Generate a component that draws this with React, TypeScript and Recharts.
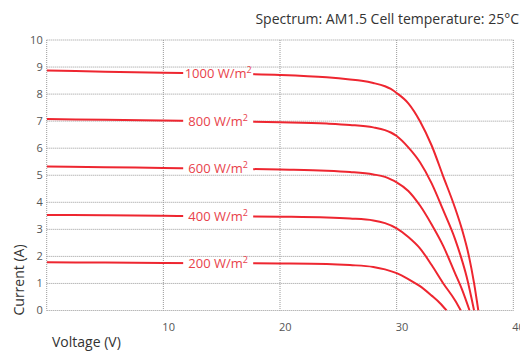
import { LineChart, Line, XAxis, YAxis, CartesianGrid } from "recharts";

const FONT = "'Open Sans', 'Segoe UI', sans-serif";
const LINE_RED = "#ee2630";
const TEXT_RED = "#e8424a";

// voltage where the irradiance tag sits on each curve
const LABEL_V = 14.7;

const xTicks = [0, 10, 20, 30, 40];
const yTicks = [0, 1, 2, 3, 4, 5, 6, 7, 8, 9, 10];

// I-V curves (V, A)
const v1000 = [0, 5, 10, 14.7, 20, 24, 26, 27, 28, 29, 29.5, 30, 31, 32, 33, 34, 35, 35.6, 36.2, 36.64, 37];
const i1000 = [8.87, 8.83, 8.79, 8.76, 8.71, 8.62, 8.54, 8.49, 8.41, 8.29, 8.19, 8.04, 7.66, 7.0, 6.1, 4.95, 3.8, 3.0, 2.0, 1.0, 0];

const v800 = [0, 5, 10, 14.7, 20, 24, 26, 28, 29, 29.5, 30, 31, 32, 33, 34, 35, 35.5, 36, 36.64];
const i800 = [7.08, 7.05, 7.02, 7.0, 6.96, 6.91, 6.86, 6.77, 6.67, 6.58, 6.45, 6.03, 5.48, 4.7, 3.7, 2.65, 2.0, 1.25, 0];

const v600 = [0, 5, 10, 14.7, 20, 24, 26, 28, 29, 29.5, 30, 31, 32, 33, 34, 35, 35.6, 36.25];
const i600 = [5.32, 5.3, 5.27, 5.25, 5.21, 5.17, 5.12, 5.03, 4.94, 4.85, 4.74, 4.42, 3.88, 3.18, 2.38, 1.38, 0.78, 0];

const v400 = [0, 5, 10, 14.7, 20, 24, 26, 28, 29, 30, 31, 32, 33, 34, 35, 35.5];
const i400 = [3.53, 3.52, 3.5, 3.49, 3.47, 3.44, 3.4, 3.33, 3.23, 3.04, 2.72, 2.3, 1.68, 1.0, 0.38, 0];

const v200 = [0, 5, 10, 14.7, 20, 24, 26, 28, 29, 30, 31, 32, 33, 33.7, 34.28];
const i200 = [1.78, 1.77, 1.76, 1.75, 1.74, 1.72, 1.68, 1.61, 1.52, 1.38, 1.16, 0.9, 0.55, 0.28, 0];

const irradiance = ["1000", "800", "600", "400", "200"];
const voltages = [v1000, v800, v600, v400, v200];
const currents = [i1000, i800, i600, i400, i200];

const series = irradiance.map((name, k) => ({
  name,
  data: voltages[k].map((v, j) => ({ v, i: currents[k][j] })),
}));

const XTick = (props: any) => {
  const { x, y, payload } = props;
  if (payload.value === 0) return <g />;
  return (
    <text x={x - 1} y={y} dy="0.71em" fill="#555" fontSize={11} fontFamily={FONT}>
      {payload.value}
    </text>
  );
};

// irradiance tag drawn over the curve with a white box behind it
const makeTag = (name: string) => (p: any) => {
  if (!p.payload || p.payload.v !== LABEL_V) return <g key={`d-${name}-${p.index}`} />;
  return (
    <g key={`tag-${name}`}>
      <rect x={p.cx - 35} y={p.cy - 5.5} width={70} height={11} fill="#fff" />
      <text
        x={p.cx}
        y={p.cy}
        dy="0.36em"
        textAnchor="middle"
        fill={TEXT_RED}
        fontSize={13}
        fontFamily={FONT}
      >
        {name} W/m
        <tspan dy={-5} fontSize={9}>
          2
        </tspan>
      </text>
    </g>
  );
};

export default function App() {
  return (
    <div style={{ position: "absolute", left: 0, top: 0, width: 520, height: 351, background: "#fff" }}>
      <div
        style={{
          position: "absolute",
          top: 9,
          right: 1,
          fontFamily: FONT,
          fontSize: 14,
          lineHeight: "19px",
          color: "#333",
          whiteSpace: "nowrap",
        }}
      >
        Spectrum: AM1.5 Cell temperature: 25°C
      </div>
      <LineChart width={520} height={351} margin={{ top: 40, right: 6.7, bottom: 0, left: 0 }}>
        <CartesianGrid stroke="#999" strokeDasharray="1 1" />
        <XAxis
          type="number"
          dataKey="v"
          domain={[0, 40]}
          ticks={xTicks}
          interval={0}
          height={40.5}
          axisLine={false}
          tickLine={false}
          tickSize={10}
          tickMargin={2.5}
          tick={XTick}
          allowDataOverflow
          label={{
            content: () => (
              <text x={52} y={346.5} fill="#333" fontSize={14} fontFamily={FONT}>
                Voltage (V)
              </text>
            ),
          }}
        />
        <YAxis
          type="number"
          domain={[0, 10]}
          ticks={yTicks}
          interval={0}
          width={46.7}
          axisLine={false}
          tickLine={false}
          tickSize={2}
          tickMargin={2}
          tick={{ fill: "#555", fontSize: 11, fontFamily: FONT }}
          allowDataOverflow
          label={{
            content: () => (
              <text
                transform="translate(24,280) rotate(-90)"
                textAnchor="middle"
                fill="#333"
                fontSize={14}
                fontFamily={FONT}
              >
                Current (A)
              </text>
            ),
          }}
        />
        {series.map((s) => (
          <Line
            key={s.name}
            data={s.data}
            dataKey="i"
            type="monotone"
            stroke={LINE_RED}
            strokeWidth={2}
            dot={makeTag(s.name)}
            activeDot={false}
            isAnimationActive={false}
          />
        ))}
      </LineChart>
    </div>
  );
}
